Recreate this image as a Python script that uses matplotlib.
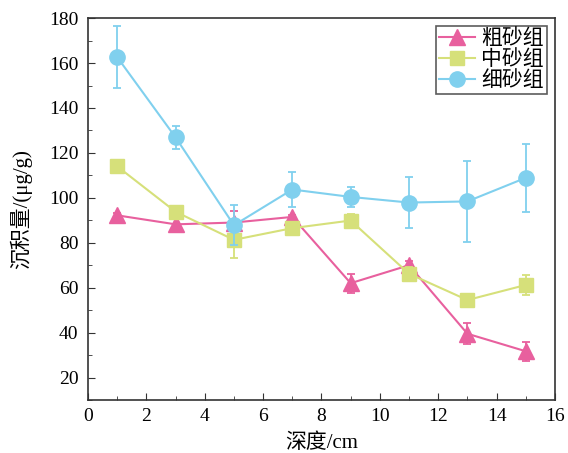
import matplotlib
matplotlib.use("Agg")
import matplotlib.pyplot as plt
from matplotlib.ticker import MultipleLocator

plt.rcParams['font.family'] = ['Liberation Serif', 'Noto Sans CJK SC', 'DejaVu Sans']
plt.rcParams['mathtext.fontset'] = 'stix'

depth = [1, 3, 5, 7, 9, 11, 13, 15]
coarse = [92.2, 88.2, 89.0, 91.5, 62.0, 70.0, 39.5, 31.7]
coarse_err = [1.0, 3.0, 5.0, 1.0, 4.3, 2.0, 4.7, 4.2]
medium = [114.0, 93.8, 81.3, 86.5, 89.9, 66.2, 54.5, 61.2]
medium_err = [1.0, 2.5, 8.0, 1.0, 3.0, 3.0, 1.0, 4.5]
fine = [162.6, 126.9, 87.8, 103.7, 100.4, 97.9, 98.4, 108.9]
fine_err = [13.7, 5.0, 9.0, 7.7, 4.3, 11.2, 18.0, 15.0]
labels = ['粗砂组', '中砂组', '细砂组']

c_pink = '#E8609E'
c_yel = '#D6E07A'
c_blue = '#80D0EE'

fig = plt.figure(figsize=(5.68, 4.53), dpi=100)
ax = fig.add_axes([0.155, 0.117, 0.822, 0.843])

e1 = ax.errorbar(depth, coarse, yerr=coarse_err, color=c_pink, marker='^', ms=12,
                 lw=1.5, capsize=3, elinewidth=1.3, capthick=1.3, zorder=3)
e2 = ax.errorbar(depth, medium, yerr=medium_err, color=c_yel, marker='s', ms=10,
                 lw=1.5, capsize=3, elinewidth=1.3, capthick=1.3, zorder=4)
e3 = ax.errorbar(depth, fine, yerr=fine_err, color=c_blue, marker='o', ms=11,
                 lw=1.5, capsize=3, elinewidth=1.3, capthick=1.3, zorder=5)

ax.set_xlim(0, 16)
ax.set_ylim(10, 180)
ax.xaxis.set_major_locator(MultipleLocator(2))
ax.xaxis.set_minor_locator(MultipleLocator(1))
ax.yaxis.set_minor_locator(MultipleLocator(10))
ax.set_yticks(range(20, 181, 20))
ax.tick_params(which='both', direction='in', labelsize=14, color='#333333')
ax.tick_params(which='major', length=5)
ax.tick_params(which='minor', length=3)
ax.tick_params(axis='y', pad=7)
ax.tick_params(axis='x', pad=6)
for s in ax.spines.values():
    s.set_linewidth(1.2)
    s.set_color('#333333')

ax.set_xlabel('深度/cm', fontsize=15, labelpad=6)
ax.set_ylabel('沉积量/(μg/g)', fontsize=15, labelpad=12)

leg = ax.legend([e1[0], e2[0], e3[0]], labels, loc='upper right', fontsize=15,
                frameon=True, fancybox=False, edgecolor='#333333',
                handlelength=1.7, borderpad=0.15, labelspacing=0.05,
                handletextpad=0.3, borderaxespad=0.4)
leg.get_frame().set_linewidth(1.2)

fig.savefig('out.png', dpi=100)
